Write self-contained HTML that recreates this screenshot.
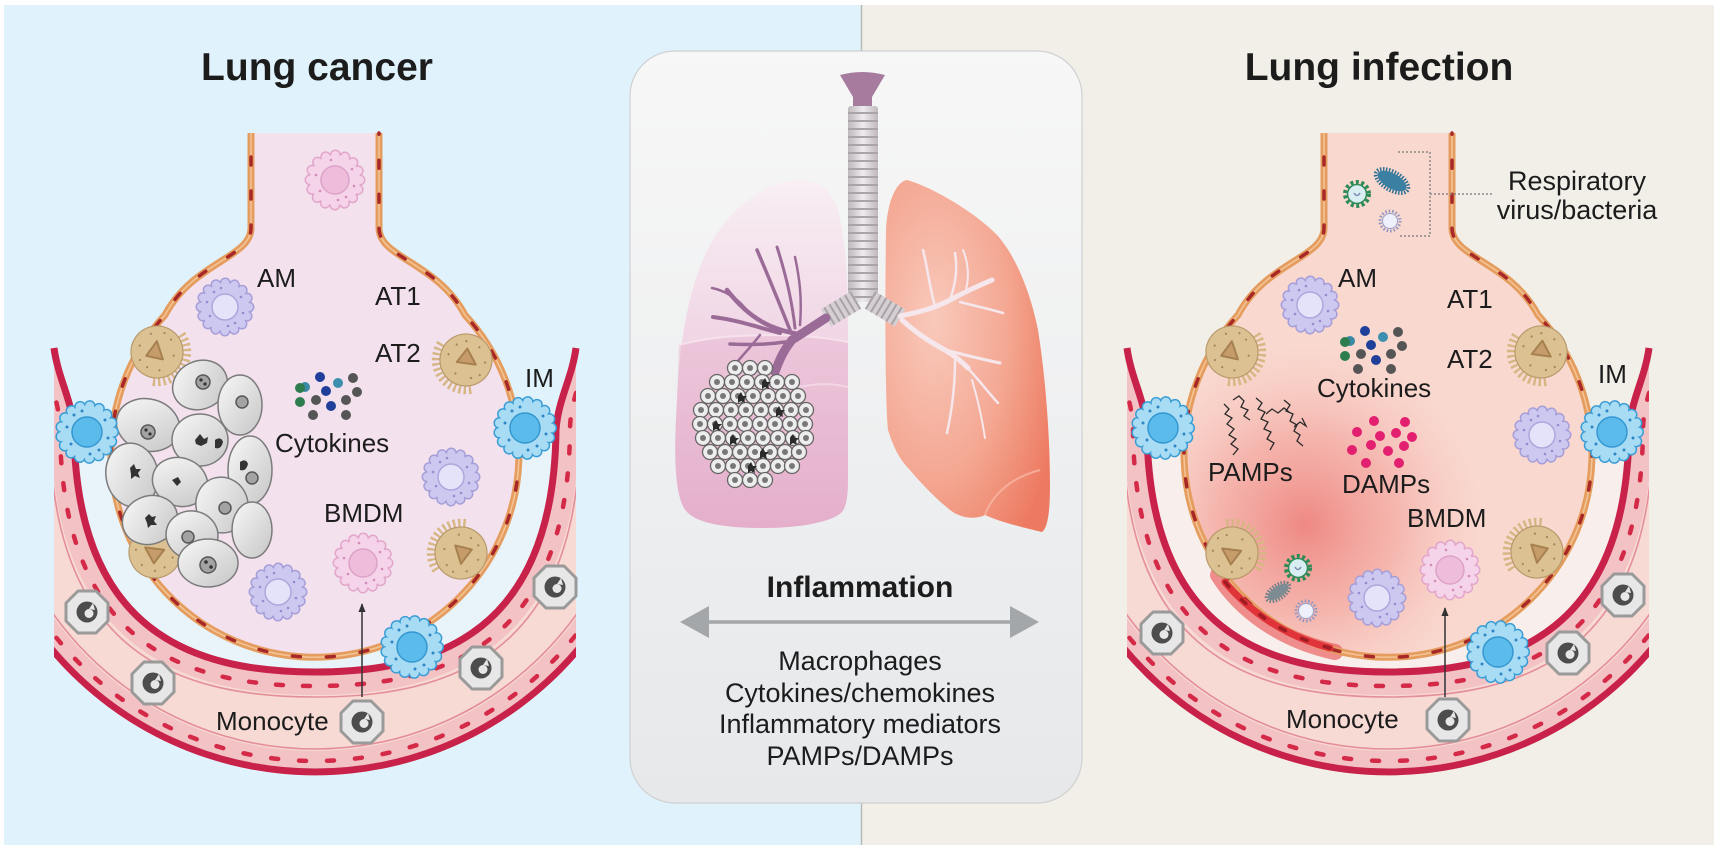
<!DOCTYPE html>
<html><head><meta charset="utf-8">
<style>
html,body{margin:0;padding:0;background:#fff;}
svg{display:block}
text{font-family:"Liberation Sans",Arial,sans-serif;fill:#1c1c1c}
</style></head>
<body>
<svg width="1724" height="858" viewBox="0 0 1724 858" xmlns="http://www.w3.org/2000/svg">
<defs>
  <linearGradient id="panelG" x1="0" y1="0" x2="0" y2="1">
    <stop offset="0" stop-color="#f7f7f7"/><stop offset="1" stop-color="#e6e8ea"/>
  </linearGradient>
  <linearGradient id="lungL" x1="0" y1="0" x2="0" y2="1">
    <stop offset="0" stop-color="#f8eff4"/><stop offset="0.45" stop-color="#f1d6e5"/><stop offset="1" stop-color="#e3abc9"/>
  </linearGradient>
  <radialGradient id="lungR" cx="0.3" cy="0.4" r="0.8">
    <stop offset="0" stop-color="#f9c9bb"/><stop offset="0.55" stop-color="#f4a893"/><stop offset="1" stop-color="#ed7a60"/>
  </radialGradient>
  <linearGradient id="trG" x1="0" y1="0" x2="1" y2="0">
    <stop offset="0" stop-color="#bfb8bc"/><stop offset="0.5" stop-color="#eeebed"/><stop offset="1" stop-color="#bfb8bc"/>
  </linearGradient>
  <linearGradient id="tcg" x1="0" y1="0" x2="1" y2="1">
    <stop offset="0" stop-color="#f8f8f8"/><stop offset="1" stop-color="#c6c6c6"/>
  </linearGradient>
  <radialGradient id="redblot" gradientUnits="userSpaceOnUse" cx="1305" cy="525" r="180">
    <stop offset="0" stop-color="#ee847f" stop-opacity="0.95"/>
    <stop offset="0.5" stop-color="#f2a29b" stop-opacity="0.65"/>
    <stop offset="1" stop-color="#f6c2ba" stop-opacity="0"/>
  </radialGradient>

  <clipPath id="tis"><path d="M54,348 L54,657 A347,347 0 0 0 576,657 L576,348 C572,378 558,400 556,430 C554,630 440,672 315,672 C190,672 76,630 74,430 C72,400 58,378 54,348 Z"/></clipPath>
  <clipPath id="alvR"><path transform="translate(1073,0)" d="M251,133 L251,228 C251,258 193,262 165,315 A204,204 0 1 0 465,315 C437,262 379,258 379,228 L379,133 Z"/></clipPath>

  <g id="s1">
    <path d="M54,348 L54,657 A347,347 0 0 0 576,657 L576,348 C572,378 558,400 556,430 C554,630 440,672 315,672 C190,672 76,630 74,430 C72,400 58,378 54,348 Z" fill="#f7dad4"/>
    <g clip-path="url(#tis)">
      <path d="M54,348 C58,378 72,400 74,430 C76,630 190,672 315,672 C440,672 554,630 556,430 C558,400 572,378 576,348" fill="none" stroke="#f2c2c5" stroke-width="46"/>
      <circle cx="315" cy="428" r="335" fill="none" stroke="#f2c2c5" stroke-width="24"/>
    </g>
  </g>
  <g id="s2">
    <g clip-path="url(#tis)">
      <path d="M44,350 C50,385 60,405 60,430 C62,645 185,686 315,686 C445,686 568,645 570,430 C570,405 580,385 586,350" fill="none" stroke="#d42a48" stroke-width="4.5" stroke-dasharray="7 20" stroke-linecap="round"/>
      <path d="M44,390 C48,410 50,420 50,432 C52,655 180,697 315,697 C450,697 578,655 580,432" fill="none" stroke="#e48e99" stroke-width="1.6"/>
      <circle cx="315" cy="428" r="333" fill="none" stroke="#d42a48" stroke-width="4.5" stroke-dasharray="7 21" stroke-linecap="round"/>
      <circle cx="315" cy="428" r="321" fill="none" stroke="#e48e99" stroke-width="1.6"/>
      <circle cx="315" cy="428" r="347" fill="none" stroke="#c8224a" stroke-width="13"/>
    </g>
    <path d="M54,348 C58,378 72,400 74,430 C76,630 190,672 315,672 C440,672 554,630 556,430 C558,400 572,378 576,348" fill="none" stroke="#c8224a" stroke-width="7"/>
  </g>
  <g id="s3">
    <path d="M251,133 L251,228 C251,258 193,262 165,315 A204,204 0 1 0 465,315 C437,262 379,258 379,228 L379,133" fill="none" stroke="#e59d5f" stroke-width="7"/>
    <path d="M251,133 L251,228 C251,258 193,262 165,315 A204,204 0 1 0 465,315 C437,262 379,258 379,228 L379,133" fill="none" stroke="#f4c596" stroke-width="1.5"/>
    <path d="M251,133 L251,228 C251,258 193,262 165,315 A204,204 0 1 0 465,315 C437,262 379,258 379,228 L379,133" fill="none" stroke="#a82828" stroke-width="3.5" stroke-dasharray="8 26" stroke-dashoffset="10" stroke-linecap="round"/>
  </g>

  <g id="mac">
    <circle r="24" fill="none" stroke="#a69ed8" stroke-width="11" stroke-dasharray="0.01 9.42" stroke-linecap="round"/>
    <circle r="24" fill="none" stroke="#cdc8f0" stroke-width="8" stroke-dasharray="0.01 9.42" stroke-linecap="round"/>
    <circle r="24" fill="#cdc8f0"/>
    <circle r="13" fill="#e5e3fa" stroke="#aea6dc" stroke-width="1.5"/>
    <g fill="#958cce"><circle cx="-18" cy="-5" r="1.3"/><circle cx="-15" cy="9" r="1.3"/><circle cx="16" cy="-10" r="1.3"/><circle cx="18" cy="6" r="1.3"/><circle cx="3" cy="19" r="1.3"/><circle cx="-4" cy="-19" r="1.3"/><circle cx="10" cy="16" r="1.3"/><circle cx="-11" cy="-15" r="1.3"/></g>
  </g>
  <g id="bmdm">
    <circle r="25" fill="none" stroke="#e2a6cb" stroke-width="11" stroke-dasharray="0.01 9.82" stroke-linecap="round"/>
    <circle r="25" fill="none" stroke="#f5d3e8" stroke-width="8" stroke-dasharray="0.01 9.82" stroke-linecap="round"/>
    <circle r="25" fill="#f5d3e8"/>
    <circle r="14" fill="#efbddc" stroke="#dca2c8" stroke-width="1.5"/>
    <g fill="#d48aba"><circle cx="-19" cy="-5" r="1.3"/><circle cx="-15" cy="11" r="1.3"/><circle cx="17" cy="-11" r="1.3"/><circle cx="19" cy="6" r="1.3"/><circle cx="3" cy="20" r="1.3"/><circle cx="-4" cy="-20" r="1.3"/><circle cx="11" cy="17" r="1.3"/></g>
  </g>
  <g id="im">
    <circle r="26" fill="none" stroke="#3b9dd5" stroke-width="12" stroke-dasharray="0.01 9.61" stroke-linecap="round"/>
    <circle r="26" fill="none" stroke="#a8dcf4" stroke-width="9" stroke-dasharray="0.01 9.61" stroke-linecap="round"/>
    <circle r="26" fill="#a8dcf4"/>
    <circle r="15" fill="#5bbbeb" stroke="#3597d0" stroke-width="1.5"/>
    <g fill="#2f86c6"><circle cx="-20" cy="-5" r="1.5"/><circle cx="-16" cy="12" r="1.5"/><circle cx="18" cy="-12" r="1.5"/><circle cx="21" cy="6" r="1.5"/><circle cx="3" cy="22" r="1.5"/><circle cx="-5" cy="-21" r="1.5"/><circle cx="12" cy="18" r="1.5"/><circle cx="-13" cy="-17" r="1.5"/></g>
  </g>
  <g id="mono">
    <polygon points="-9,-21 9,-21 21,-9 21,9 9,21 -9,21 -21,9 -21,-9" fill="#e7e7e7" stroke="#9a9a9a" stroke-width="3" stroke-linejoin="round"/>
    <circle r="10.5" fill="#4d4d4d"/>
    <circle cx="2" cy="1.5" r="4.5" fill="#e7e7e7"/>
    <path d="M2,-3 L6,-9 L8,-2 Z" fill="#e7e7e7"/>
  </g>
  <g id="at2">
    <path d="M10,-26 A28,28 0 0 1 10,26" fill="none" stroke="#d6b784" stroke-width="13" stroke-dasharray="2.2 2.6"/>
    <circle r="26" fill="#dcc193" stroke="#b8996a" stroke-width="1.2"/>
    <path d="M-6,-9 L9,3 L-7,9 Z" fill="#c69d6a" stroke="#a78050" stroke-width="2" stroke-linejoin="round"/>
    <g fill="#a58460"><circle cx="-15" cy="-12" r="1.1"/><circle cx="-18" cy="4" r="1.1"/><circle cx="-10" cy="16" r="1.1"/><circle cx="5" cy="-18" r="1.1"/><circle cx="12" cy="14" r="1.1"/><circle cx="16" cy="-6" r="1.1"/><circle cx="0" cy="18" r="1.1"/><circle cx="-4" cy="-20" r="1.1"/></g>
  </g>
  <g id="tc"><circle r="7.5" fill="#ededed" stroke="#666" stroke-width="1.3"/><circle r="3" fill="#777"/></g>
  <g id="vg">
    <circle r="12" fill="none" stroke="#2e8b57" stroke-width="4" stroke-dasharray="3 2.5"/>
    <circle r="9.5" fill="#d9eef3" stroke="#2e8b57" stroke-width="1.5"/>
    <path d="M-3,-1 Q0,4 3,-1" fill="none" stroke="#7a8fb0" stroke-width="1.5"/>
  </g>
  <g id="vp">
    <circle r="10" fill="none" stroke="#8e96c6" stroke-width="3" stroke-dasharray="1.5 2"/>
    <circle r="7.5" fill="#eef0fa" stroke="#9aa0c8" stroke-width="1"/>
  </g>
  <marker id="ah" viewBox="0 0 10 10" refX="9" refY="5" markerWidth="6" markerHeight="6" orient="auto"><path d="M0,1 L10,5 L0,9 Z" fill="#333"/></marker>
</defs>

<rect x="0" y="0" width="1724" height="858" fill="#ffffff"/>
<rect x="4" y="5" width="857" height="840" fill="#e0f3fc"/>
<rect x="861" y="5" width="853" height="840" fill="#f1efe8"/>
<line x1="861.5" y1="5" x2="861.5" y2="845" stroke="#b9b9b9" stroke-width="1.5"/>

<text x="317" y="80" font-size="39" font-weight="bold" text-anchor="middle" fill="#111">Lung cancer</text>
<text x="1379" y="80" font-size="39" font-weight="bold" text-anchor="middle" fill="#111">Lung infection</text>

<!-- LEFT ALVEOLUS -->
<use href="#s1"/>
<path d="M74,430 C76,630 190,672 315,672 C440,672 554,630 556,430 Z" fill="#e8f4fa"/>
<use href="#s2"/>
<path d="M251,133 L251,228 C251,258 193,262 165,315 A204,204 0 1 0 465,315 C437,262 379,258 379,228 L379,133 Z" fill="#f3e1ed"/>
<use href="#s3"/>

<use href="#bmdm" transform="translate(335,180)"/>
<use href="#mac" transform="translate(225,307)"/>
<use href="#at2" transform="translate(157,352) rotate(33)"/>
<use href="#at2" transform="translate(466,360) rotate(149)"/>
<use href="#at2" transform="translate(155,552) rotate(-32)"/>
<use href="#at2" transform="translate(461,553) rotate(-146)"/>

<g stroke="#7b7b7b" stroke-width="1.5" fill="url(#tcg)">
  <ellipse cx="200" cy="385" rx="28" ry="24" transform="rotate(-25 200 385)"/>
  <ellipse cx="240" cy="405" rx="22" ry="30"/>
  <ellipse cx="148" cy="425" rx="32" ry="26" transform="rotate(15 148 425)"/>
  <ellipse cx="200" cy="440" rx="28" ry="26"/>
  <ellipse cx="250" cy="470" rx="22" ry="34"/>
  <ellipse cx="132" cy="475" rx="26" ry="32" transform="rotate(-10 132 475)"/>
  <ellipse cx="180" cy="482" rx="28" ry="24" transform="rotate(20 180 482)"/>
  <ellipse cx="222" cy="505" rx="26" ry="28" transform="rotate(-15 222 505)"/>
  <ellipse cx="252" cy="530" rx="20" ry="28"/>
  <ellipse cx="150" cy="520" rx="28" ry="24" transform="rotate(-20 150 520)"/>
  <ellipse cx="192" cy="535" rx="26" ry="24" transform="rotate(10 192 535)"/>
  <ellipse cx="208" cy="563" rx="30" ry="24"/>
</g>
<g fill="#a3a3a3" stroke="#575757" stroke-width="1.5">
  <circle cx="203" cy="382" r="7"/><circle cx="242" cy="402" r="6"/><circle cx="148" cy="432" r="7"/><circle cx="252" cy="478" r="6"/>
  <circle cx="208" cy="565" r="8"/><circle cx="188" cy="537" r="6"/><circle cx="225" cy="508" r="6"/>
</g>
<g fill="#333">
  <circle cx="201" cy="380" r="1.6"/><circle cx="205" cy="384" r="1.6"/><circle cx="206" cy="562" r="1.8"/><circle cx="211" cy="567" r="1.8"/>
  <circle cx="146" cy="430" r="1.6"/><circle cx="150" cy="434" r="1.6"/>
  <path d="M195,440 l5,-6 4,5 4,-2 -1,6 -6,3 -5,-2 z"/>
  <path d="M130,468 l4,-4 2,5 5,0 -3,4 2,5 -5,-2 -4,3 0,-5 z"/>
  <path d="M172,480 l6,-3 3,5 -4,4 z"/>
  <path d="M145,518 l4,-4 3,3 4,-1 -2,5 3,4 -6,0 -3,3 -1,-5 z"/>
  <path d="M215,440 q6,-4 8,2 q-2,8 -8,6 z"/>
  <path d="M240,462 q6,-4 8,2 q-2,8 -8,6 z"/>
</g>

<use href="#im" transform="translate(87,432)"/>
<use href="#im" transform="translate(525,428)"/>
<use href="#mac" transform="translate(451,477)"/>
<use href="#mac" transform="translate(278,592)"/>
<use href="#bmdm" transform="translate(363,563)"/>
<use href="#im" transform="translate(412,647)"/>
<use href="#mono" transform="translate(87,612)"/>
<use href="#mono" transform="translate(153,683)"/>
<use href="#mono" transform="translate(481,668)"/>
<use href="#mono" transform="translate(555,587)"/>
<use href="#mono" transform="translate(362,722)"/>
<line x1="362" y1="697" x2="362" y2="604" stroke="#333" stroke-width="1.5" marker-end="url(#ah)"/>

<g>
  <circle cx="320" cy="377" r="5" fill="#1f3f9a"/><circle cx="305" cy="387" r="5" fill="#3a8aa5"/>
  <circle cx="353" cy="378" r="5" fill="#555"/><circle cx="338" cy="383" r="5" fill="#3d8fb0"/>
  <circle cx="326" cy="391" r="5" fill="#1f3f9a"/><circle cx="357" cy="392" r="5" fill="#555"/>
  <circle cx="300" cy="388" r="5" fill="#2e7d4f"/><circle cx="300" cy="402" r="5" fill="#2e7d4f"/>
  <circle cx="316" cy="400" r="5" fill="#555"/><circle cx="331" cy="406" r="5" fill="#1f3f9a"/>
  <circle cx="346" cy="400" r="5" fill="#555"/><circle cx="346" cy="415" r="5" fill="#555"/>
  <circle cx="313" cy="415" r="5" fill="#555"/>
</g>

<g font-size="26">
  <text x="257" y="287">AM</text>
  <text x="375" y="305">AT1</text>
  <text x="375" y="362">AT2</text>
  <text x="525" y="387">IM</text>
  <text x="275" y="452">Cytokines</text>
  <text x="324" y="522">BMDM</text>
  <text x="216" y="730">Monocyte</text>
</g>

<!-- RIGHT ALVEOLUS -->
<use href="#s1" transform="translate(1073,0)"/>
<path transform="translate(1073,0)" d="M74,430 C76,630 190,672 315,672 C440,672 554,630 556,430 Z" fill="#f8efec"/>
<use href="#s2" transform="translate(1073,0)"/>
<path transform="translate(1073,0)" d="M251,133 L251,228 C251,258 193,262 165,315 A204,204 0 1 0 465,315 C437,262 379,258 379,228 L379,133 Z" fill="#f9d8cf"/>
<rect x="1100" y="130" width="500" height="560" fill="url(#redblot)" clip-path="url(#alvR)"/>
<path d="M1218,575 C1240,610 1280,640 1335,652" fill="none" stroke="#e53c3c" stroke-width="16" stroke-opacity="0.55" stroke-linecap="round"/>
<use href="#s3" transform="translate(1073,0)"/>
<path d="M1225,582 C1250,612 1285,636 1330,648" fill="none" stroke="#e0343a" stroke-width="7" stroke-linecap="round"/>
<path d="M1225,582 C1250,612 1285,636 1330,648" fill="none" stroke="#9e1c22" stroke-width="3.5" stroke-dasharray="6 18" stroke-linecap="round"/>

<use href="#vg" transform="translate(1357,194)"/>
<g transform="translate(1392,181) rotate(30)">
  <ellipse rx="18" ry="9" fill="none" stroke="#2f6f91" stroke-width="4" stroke-dasharray="1.5 1.5"/>
  <ellipse rx="16" ry="7.5" fill="#3b7fa3"/>
</g>
<use href="#vp" transform="translate(1390,221)"/>
<path d="M1398,152 L1430,152 L1430,236 L1398,236 M1430,194 L1493,194" fill="none" stroke="#8a8a8a" stroke-width="1.5" stroke-dasharray="2 2"/>

<use href="#mac" transform="translate(1310,305)"/>
<use href="#at2" transform="translate(1232,352) rotate(33)"/>
<use href="#at2" transform="translate(1541,352) rotate(149)"/>
<use href="#at2" transform="translate(1232,553) rotate(-32)"/>
<use href="#at2" transform="translate(1537,552) rotate(-146)"/>
<use href="#im" transform="translate(1163,428)"/>
<use href="#im" transform="translate(1612,432)"/>
<use href="#mac" transform="translate(1542,435)"/>
<use href="#mac" transform="translate(1377,598)"/>
<use href="#bmdm" transform="translate(1450,570)"/>
<use href="#im" transform="translate(1498,652)"/>
<use href="#mono" transform="translate(1162,633)"/>
<use href="#mono" transform="translate(1568,653)"/>
<use href="#mono" transform="translate(1623,595)"/>
<use href="#mono" transform="translate(1448,720)"/>
<line x1="1445" y1="697" x2="1445" y2="608" stroke="#333" stroke-width="1.5" marker-end="url(#ah)"/>

<use href="#vg" transform="translate(1298,568)"/>
<g transform="translate(1278,592) rotate(-35)">
  <ellipse rx="13" ry="6.5" fill="none" stroke="#6f7f86" stroke-width="4" stroke-dasharray="1.5 1.5"/>
  <ellipse rx="12" ry="5.5" fill="#7d8c92"/>
</g>
<use href="#vp" transform="translate(1306,611)"/>

<g transform="translate(1045,-46)">
  <circle cx="320" cy="377" r="5" fill="#1f3f9a"/><circle cx="305" cy="387" r="5" fill="#3a8aa5"/>
  <circle cx="353" cy="378" r="5" fill="#555"/><circle cx="338" cy="383" r="5" fill="#3d8fb0"/>
  <circle cx="326" cy="391" r="5" fill="#1f3f9a"/><circle cx="357" cy="392" r="5" fill="#555"/>
  <circle cx="300" cy="388" r="5" fill="#2e7d4f"/><circle cx="300" cy="402" r="5" fill="#2e7d4f"/>
  <circle cx="316" cy="400" r="5" fill="#555"/><circle cx="331" cy="406" r="5" fill="#1f3f9a"/>
  <circle cx="346" cy="400" r="5" fill="#555"/><circle cx="346" cy="415" r="5" fill="#555"/>
  <circle cx="313" cy="415" r="5" fill="#555"/>
</g>
<g fill="#e2206f">
  <circle cx="1374" cy="421" r="5"/><circle cx="1405" cy="422" r="5"/>
  <circle cx="1357" cy="432" r="5"/><circle cx="1380" cy="436" r="5"/><circle cx="1396" cy="433" r="5"/><circle cx="1412" cy="437" r="5"/>
  <circle cx="1352" cy="450" r="5"/><circle cx="1371" cy="445" r="5"/><circle cx="1388" cy="451" r="5"/><circle cx="1404" cy="446" r="5"/>
  <circle cx="1366" cy="463" r="5"/><circle cx="1399" cy="463" r="5"/>
</g>
<g fill="none" stroke="#2a2a2a" stroke-width="1.3">
  <polyline points="1224,404 1229,409 1225,414 1232,418 1227,424 1234,429 1229,435 1236,439 1231,444 1238,449 1233,455"/>
  <polyline points="1233,400 1239,396 1244,401 1241,407 1248,410 1244,416 1250,420"/>
  <polyline points="1256,398 1262,403 1258,409 1265,412 1261,419 1268,422 1264,429 1271,432 1267,439 1274,443 1270,450"/>
  <polyline points="1266,414 1272,409 1278,413 1284,408 1289,412"/>
  <polyline points="1284,400 1290,405 1286,411 1293,414 1290,421 1297,425 1294,431 1300,435 1297,441 1303,446"/>
  <polyline points="1294,427 1300,422 1306,426 1302,418"/>
</g>

<g font-size="26">
  <text x="1338" y="287">AM</text>
  <text x="1447" y="308">AT1</text>
  <text x="1447" y="368">AT2</text>
  <text x="1598" y="383">IM</text>
  <text x="1317" y="397">Cytokines</text>
  <text x="1208" y="481">PAMPs</text>
  <text x="1342" y="493">DAMPs</text>
  <text x="1407" y="527">BMDM</text>
  <text x="1286" y="728">Monocyte</text>
</g>
<g font-size="27" text-anchor="middle">
  <text x="1577" y="190">Respiratory</text>
  <text x="1577" y="219">virus/bacteria</text>
</g>

<!-- CENTER PANEL -->
<rect x="630" y="51" width="452" height="752" rx="45" ry="45" fill="url(#panelG)" stroke="#cfd0d1" stroke-width="1.2"/>

<!-- left lung -->
<path d="M800,180 C772,180 738,200 714,238 C692,274 680,330 677,400 C674,450 674,490 684,508 C692,522 720,528 763,528 C800,528 832,522 842,512 C848,504 848,490 848,470 L848,330 C848,280 846,240 838,210 C830,188 818,180 800,180 Z" fill="url(#lungL)"/>
<path d="M679,345 C720,333 800,332 848,342 L848,470 C848,490 848,504 842,512 C832,522 800,528 763,528 C720,528 692,522 684,508 C674,490 674,450 677,400 Z" fill="#e6b4cf" opacity="0.45"/>
<path d="M679,345 C720,333 800,332 848,342" fill="none" stroke="#f6e2ec" stroke-width="2"/>
<path d="M795,388 C815,383 832,383 848,387" fill="none" stroke="#f3d6e5" stroke-width="2"/>
<!-- right lung -->
<path d="M907,180 C930,186 975,212 997,235 C1015,255 1030,290 1038,330 C1046,380 1050,440 1050,485 C1050,510 1048,528 1042,532 C1025,528 1000,522 985,515 C975,520 960,518 950,510 C938,500 925,488 910,470 C898,458 893,445 888,430 C885,400 885,300 886,230 C887,205 895,182 907,180 Z" fill="url(#lungR)"/>
<path d="M985,515 C992,495 1010,478 1040,470" fill="none" stroke="#f7b7a4" stroke-width="2" opacity="0.8"/>

<!-- trachea -->
<path d="M840,75 Q862,69 885,75 L872,97 L872,108 L853,108 L853,97 Z" fill="#a77b9e"/>
<rect x="848" y="106" width="30" height="196" rx="3" fill="url(#trG)"/>
<g stroke="#aaa3a8" stroke-width="2">
  <line x1="848" y1="113" x2="878" y2="113"/><line x1="848" y1="121" x2="878" y2="121"/><line x1="848" y1="129" x2="878" y2="129"/>
  <line x1="848" y1="137" x2="878" y2="137"/><line x1="848" y1="145" x2="878" y2="145"/><line x1="848" y1="153" x2="878" y2="153"/>
  <line x1="848" y1="161" x2="878" y2="161"/><line x1="848" y1="169" x2="878" y2="169"/><line x1="848" y1="177" x2="878" y2="177"/>
  <line x1="848" y1="185" x2="878" y2="185"/><line x1="848" y1="193" x2="878" y2="193"/><line x1="848" y1="201" x2="878" y2="201"/>
  <line x1="848" y1="209" x2="878" y2="209"/><line x1="848" y1="217" x2="878" y2="217"/><line x1="848" y1="225" x2="878" y2="225"/>
  <line x1="848" y1="233" x2="878" y2="233"/><line x1="848" y1="241" x2="878" y2="241"/><line x1="848" y1="249" x2="878" y2="249"/>
  <line x1="848" y1="257" x2="878" y2="257"/><line x1="848" y1="265" x2="878" y2="265"/><line x1="848" y1="273" x2="878" y2="273"/>
  <line x1="848" y1="281" x2="878" y2="281"/><line x1="848" y1="289" x2="878" y2="289"/><line x1="848" y1="297" x2="878" y2="297"/>
</g>
<line x1="856" y1="300" x2="826" y2="318" stroke="#d5cfd3" stroke-width="20"/>
<line x1="856" y1="300" x2="826" y2="318" stroke="#a9a2a7" stroke-width="20" stroke-dasharray="2 4"/>
<line x1="870" y1="300" x2="900" y2="318" stroke="#d5cfd3" stroke-width="20"/>
<line x1="870" y1="300" x2="900" y2="318" stroke="#a9a2a7" stroke-width="20" stroke-dasharray="2 4"/>

<!-- left bronchial tree -->
<g fill="none" stroke="#9b6b98" stroke-linecap="round">
  <path d="M826,318 L792,340 C784,350 780,358 775,372" stroke-width="9"/>
  <path d="M798,334 C775,330 752,322 727,290" stroke-width="4.5"/>
  <path d="M780,333 C760,328 738,320 713,317" stroke-width="4"/>
  <path d="M785,342 C765,345 748,345 730,344" stroke-width="3.5"/>
  <path d="M790,330 C780,305 770,280 757,250" stroke-width="3.5"/>
  <path d="M795,328 C792,300 786,275 777,247" stroke-width="3"/>
  <path d="M800,325 C802,300 800,280 795,257" stroke-width="2.5"/>
  <path d="M745,308 C735,296 722,290 712,288" stroke-width="2.5"/>
  <path d="M760,335 C750,348 740,358 732,368" stroke-width="2.5"/>
</g>
<!-- right bronchial tree -->
<g fill="none" stroke="#f6e7ed" stroke-linecap="round">
  <path d="M900,316 C920,312 935,308 950,300 C965,292 980,285 992,280" stroke-width="5"/>
  <path d="M950,300 C955,285 958,270 955,253" stroke-width="2.5"/>
  <path d="M935,306 C930,290 928,270 923,250" stroke-width="2.5"/>
  <path d="M965,293 C970,278 968,262 963,250" stroke-width="2"/>
  <path d="M960,302 C975,306 990,309 1003,313" stroke-width="2.5"/>
  <path d="M902,320 C915,332 930,342 945,350 C955,356 962,362 968,368" stroke-width="5"/>
  <path d="M945,350 C965,355 985,360 1000,363" stroke-width="3"/>
  <path d="M962,362 C975,375 988,392 998,403" stroke-width="2.5"/>
  <path d="M955,360 C955,385 952,410 947,433" stroke-width="2.5"/>
  <path d="M972,380 C978,400 982,418 985,438" stroke-width="2"/>
</g>

<!-- lung tumor -->
<g>
  <use href="#tc" x="735" y="368"/><use href="#tc" x="750" y="368"/><use href="#tc" x="765" y="368"/>
  <use href="#tc" x="717" y="382"/><use href="#tc" x="732" y="382"/><use href="#tc" x="747" y="382"/><use href="#tc" x="762" y="382"/><use href="#tc" x="777" y="382"/><use href="#tc" x="792" y="382"/>
  <use href="#tc" x="708" y="396"/><use href="#tc" x="723" y="396"/><use href="#tc" x="738" y="396"/><use href="#tc" x="753" y="396"/><use href="#tc" x="768" y="396"/><use href="#tc" x="783" y="396"/><use href="#tc" x="798" y="396"/>
  <use href="#tc" x="701" y="410"/><use href="#tc" x="716" y="410"/><use href="#tc" x="731" y="410"/><use href="#tc" x="746" y="410"/><use href="#tc" x="761" y="410"/><use href="#tc" x="776" y="410"/><use href="#tc" x="791" y="410"/><use href="#tc" x="806" y="410"/>
  <use href="#tc" x="700" y="424"/><use href="#tc" x="715" y="424"/><use href="#tc" x="730" y="424"/><use href="#tc" x="745" y="424"/><use href="#tc" x="760" y="424"/><use href="#tc" x="775" y="424"/><use href="#tc" x="790" y="424"/><use href="#tc" x="805" y="424"/>
  <use href="#tc" x="703" y="438"/><use href="#tc" x="718" y="438"/><use href="#tc" x="733" y="438"/><use href="#tc" x="748" y="438"/><use href="#tc" x="763" y="438"/><use href="#tc" x="778" y="438"/><use href="#tc" x="793" y="438"/><use href="#tc" x="806" y="438"/>
  <use href="#tc" x="710" y="452"/><use href="#tc" x="725" y="452"/><use href="#tc" x="740" y="452"/><use href="#tc" x="755" y="452"/><use href="#tc" x="770" y="452"/><use href="#tc" x="785" y="452"/><use href="#tc" x="799" y="452"/>
  <use href="#tc" x="718" y="466"/><use href="#tc" x="733" y="466"/><use href="#tc" x="748" y="466"/><use href="#tc" x="763" y="466"/><use href="#tc" x="778" y="466"/><use href="#tc" x="792" y="466"/>
  <use href="#tc" x="735" y="480"/><use href="#tc" x="750" y="480"/><use href="#tc" x="765" y="480"/>
</g>
<g fill="#2b2b2b">
  <path d="M738,396 l3,-4 2,4 4,0 -3,3 1,4 -4,-2 -3,2 z"/><path d="M776,410 l3,-4 2,4 4,0 -3,3 1,4 -4,-2 -3,2 z"/>
  <path d="M730,438 l3,-4 2,4 4,0 -3,3 1,4 -4,-2 -3,2 z"/><path d="M790,438 l3,-4 2,4 4,0 -3,3 1,4 -4,-2 -3,2 z"/>
  <path d="M760,452 l3,-4 2,4 4,0 -3,3 1,4 -4,-2 -3,2 z"/><path d="M762,382 l3,-4 2,4 4,0 -3,3 1,4 -4,-2 -3,2 z"/>
  <path d="M713,424 l3,-4 2,4 4,0 -3,3 1,4 -4,-2 -3,2 z"/><path d="M748,466 l3,-4 2,4 4,0 -3,3 1,4 -4,-2 -3,2 z"/>
</g>

<text x="860" y="597" font-size="30" font-weight="bold" text-anchor="middle" fill="#111">Inflammation</text>
<line x1="700" y1="622" x2="1019" y2="622" stroke="#a3a7aa" stroke-width="3.5"/>
<polygon points="680,622 709,606 709,638" fill="#a3a7aa"/>
<polygon points="1039,622 1010,606 1010,638" fill="#a3a7aa"/>
<g font-size="27" text-anchor="middle" fill="#1c1c1c">
  <text x="860" y="670">Macrophages</text>
  <text x="860" y="702">Cytokines/chemokines</text>
  <text x="860" y="733">Inflammatory mediators</text>
  <text x="860" y="765">PAMPs/DAMPs</text>
</g>
</svg>
</body></html>
